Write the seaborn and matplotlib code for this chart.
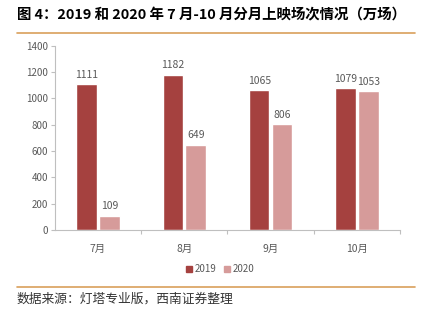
import matplotlib
matplotlib.use("Agg")
import matplotlib.pyplot as plt
from matplotlib.lines import Line2D
import seaborn as sns
import pandas as pd

months = ["7月", "8月", "9月", "10月"]
v2019 = [1111, 1182, 1065, 1079]
v2020 = [109, 649, 806, 1053]
series = ["2019", "2020"]
colors = ["#A5413F", "#D69B9A"]
yticks = [0, 200, 400, 600, 800, 1000, 1200, 1400]

sns.set_theme(style="white")
plt.rcParams['font.family'] = ['Noto Sans CJK SC', 'DejaVu Sans']

df = pd.DataFrame({
    "month": months * 2,
    "value": v2019 + v2020,
    "year": [series[0]] * 4 + [series[1]] * 4,
})

fig = plt.figure(figsize=(4.22, 3.23), dpi=100)
ax = fig.add_axes([0.130, 0.288, 0.818, 0.570])
sns.barplot(data=df, x="month", y="value", hue="year", palette=colors,
            order=months, hue_order=series, width=0.53, gap=0.1, ax=ax,
            legend=False, saturation=1)

gray = "#595959"
for cont in ax.containers:
    ax.bar_label(cont, fmt="%d", padding=3, fontsize=7.5, color=gray)

ax.set_ylim(0, 1400)
ax.set_yticks(yticks)
ax.set_xlim(-0.5, 3.5)
ax.set_xlabel("")
ax.set_ylabel("")
ax.tick_params(axis="y", labelsize=7, colors=gray, length=3, width=0.8, left=True, pad=2)
ax.tick_params(axis="x", labelsize=7.5, colors=gray, length=0, pad=10)
ax.set_xticks(range(4))
ax.set_xticklabels(months)
ax.set_xticks([0.5, 1.5, 2.5, 3.5], minor=True)
ax.tick_params(axis="x", which="minor", length=3, width=0.8, color="#BFBFBF", bottom=True)
ax.tick_params(axis="y", color="#BFBFBF")
for s in ["top", "right"]:
    ax.spines[s].set_visible(False)
for s in ["left", "bottom"]:
    ax.spines[s].set_color("#BFBFBF")
    ax.spines[s].set_linewidth(0.8)

handles = [Line2D([], [], marker="s", linestyle="", markersize=4.5,
                  markerfacecolor=c, markeredgecolor=c) for c in colors]
fig.legend(handles, series, loc="center", bbox_to_anchor=(219 / 422, 1 - 269 / 323),
           ncol=2, frameon=False, fontsize=7, handletextpad=0.1, handlelength=1.0,
           columnspacing=0.6, labelcolor=gray)

fig.text(17 / 422, 1 - 15 / 323, "图 4：2019 和 2020 年 7 月-10 月分月上映场次情况（万场）",
         fontsize=10.4, fontweight="bold", ha="left", va="center", color="#000000")
fig.add_artist(Line2D([17 / 422, 415 / 422], [1 - 33 / 323, 1 - 33 / 323],
                      color="#D9A05B", linewidth=1.2, transform=fig.transFigure))
fig.add_artist(Line2D([17 / 422, 415 / 422], [1 - 287 / 323, 1 - 287 / 323],
                      color="#D9A05B", linewidth=1.2, transform=fig.transFigure))
fig.text(17 / 422, 1 - 299 / 323, "数据来源：灯塔专业版，西南证券整理",
         fontsize=9.2, style="italic", ha="left", va="center", color="#333333")

fig.savefig("out.png", dpi=100)
